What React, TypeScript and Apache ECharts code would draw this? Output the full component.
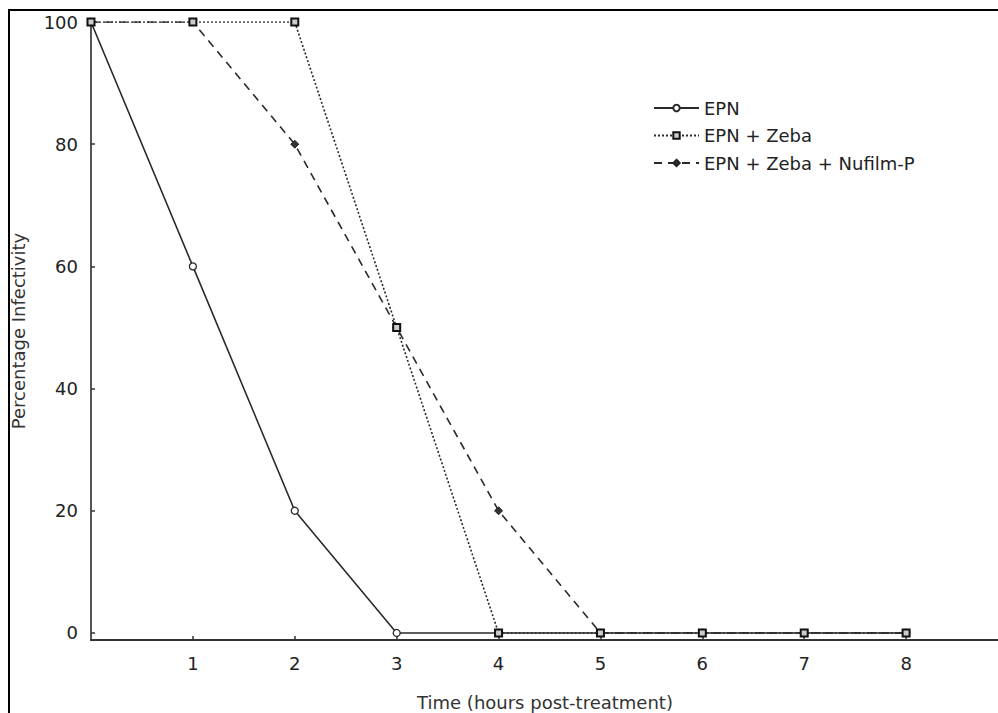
import React, { useEffect, useRef } from "react";
import * as echarts from "echarts";

const hours = [0, 1, 2, 3, 4, 5, 6, 7, 8];
const epn = [100, 60, 20, 0, 0, 0, 0, 0, 0];
const epnZeba = [100, 100, 100, 50, 0, 0, 0, 0, 0];
const epnZebaNufilm = [100, 100, 80, 50, 20, 0, 0, 0, 0];
const yTicks = [0, 20, 40, 60, 80, 100];
const xTicks = [1, 2, 3, 4, 5, 6, 7, 8];
const seriesNames = ["EPN", "EPN + Zeba", "EPN + Zeba + Nufilm-P"];
const xAxisTitle = "Time (hours post-treatment)";
const yAxisTitle = "Percentage Infectivity";

const FONT = "DejaVu Sans, Verdana, sans-serif";
const INK = "#222";

export default function App() {
  const ref = useRef<HTMLDivElement>(null);

  useEffect(() => {
    if (!ref.current) return;
    const chart = echarts.init(ref.current, undefined, { renderer: "svg" });
    const pairs = (vals: number[]) => hours.map((h, i) => [h, vals[i]]);

    chart.setOption({
      animation: false,
      backgroundColor: "#fff",
      textStyle: { fontFamily: FONT },
      grid: {
        left: 91,
        top: 22,
        width: 917,
        bottom: 73,
        containLabel: false,
        outerBoundsMode: "none",
      },
      legend: {
        orient: "vertical",
        left: 653,
        top: 99,
        padding: 0,
        itemWidth: 45,
        itemHeight: 8,
        itemGap: 9.5,
        textStyle: { fontSize: 18, lineHeight: 18, color: INK, fontFamily: FONT },
        data: seriesNames,
      },
      xAxis: {
        type: "value",
        min: 0,
        max: 9,
        splitLine: { show: false },
        axisLine: { onZero: false, lineStyle: { color: "#333", width: 2 } },
        axisTick: {
          inside: true,
          length: 4,
          customValues: xTicks,
          lineStyle: { color: "#333", width: 1.5 },
        },
        axisLabel: {
          customValues: xTicks,
          margin: 14,
          fontSize: 18,
          color: INK,
          fontFamily: FONT,
        },
      },
      yAxis: {
        type: "value",
        min: -1.15,
        max: 100,
        name: yAxisTitle,
        nameLocation: "middle",
        nameGap: 64,
        nameTextStyle: { fontSize: 18, color: "#333", fontFamily: FONT },
        splitLine: { show: false },
        axisLine: { show: true, onZero: false, lineStyle: { color: "#555", width: 2 } },
        axisTick: {
          inside: true,
          length: 4,
          customValues: yTicks,
          lineStyle: { color: "#333", width: 1.5 },
        },
        axisLabel: {
          customValues: yTicks,
          margin: 13,
          fontSize: 18,
          color: INK,
          fontFamily: FONT,
        },
      },
      graphic: [
        {
          type: "rect",
          shape: { x: 9, y: 10, width: 1000, height: 720 },
          style: { fill: "none", stroke: "#000", lineWidth: 2 },
          silent: true,
        },
        {
          type: "text",
          x: 545,
          y: 702,
          style: {
            text: xAxisTitle,
            fontSize: 18,
            fill: "#333",
            fontFamily: FONT,
            textAlign: "center",
            textVerticalAlign: "middle",
          },
        },
      ],
      series: [
        {
          name: seriesNames[0],
          type: "line",
          data: pairs(epn),
          z: 2,
          symbol: "circle",
          symbolSize: 7,
          showAllSymbol: true,
          lineStyle: { color: "#2a2a2a", width: 1.6, type: "solid" },
          itemStyle: { color: "#fff", borderColor: "#2a2a2a", borderWidth: 1.3 },
        },
        {
          name: seriesNames[1],
          type: "line",
          data: pairs(epnZeba),
          z: 4,
          symbol: "rect",
          symbolSize: 7,
          showAllSymbol: true,
          lineStyle: { color: "#2a2a2a", width: 1.6, type: [2, 2] },
          itemStyle: { color: "#ccc", borderColor: "#111", borderWidth: 2 },
        },
        {
          name: seriesNames[2],
          type: "line",
          data: pairs(epnZebaNufilm),
          z: 3,
          symbol: "diamond",
          symbolSize: 8,
          showAllSymbol: true,
          lineStyle: { color: "#2a2a2a", width: 1.6, type: [8, 6] },
          itemStyle: { color: "#333", borderColor: "#222", borderWidth: 1 },
        },
      ],
    });

    return () => chart.dispose();
  }, []);

  return (
    <div
      ref={ref}
      style={{ position: "fixed", left: 0, top: 0, width: 998, height: 713 }}
    />
  );
}
